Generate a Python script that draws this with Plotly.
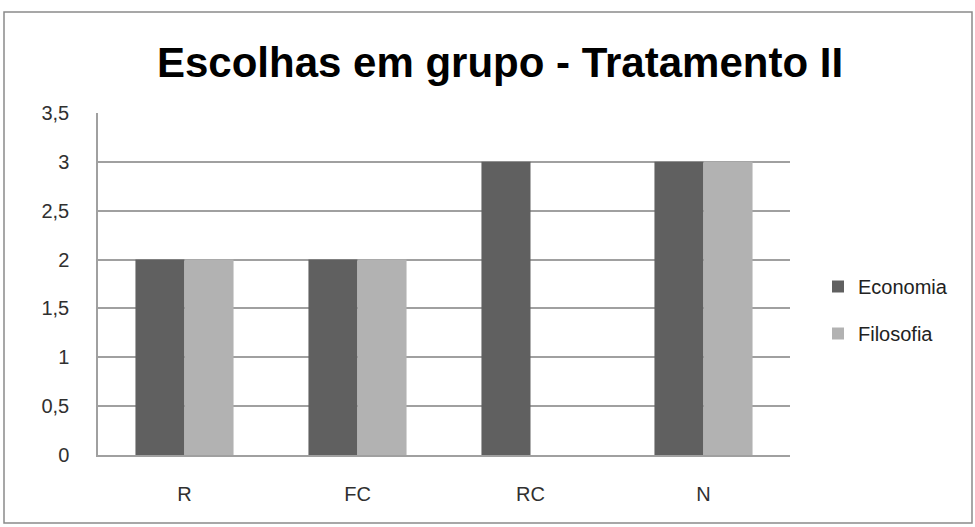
import plotly.graph_objects as go

categories = ["R", "FC", "RC", "N"]
economia = [2, 2, 3, 3]
filosofia = [2, 2, 0, 3]
y_ticks = [0, 0.5, 1, 1.5, 2, 2.5, 3, 3.5]

font_family = "Liberation Sans, Arial, sans-serif"

fig = go.Figure()
fig.add_trace(go.Bar(name="Economia", x=categories, y=economia, legendgroup="e",
                     marker=dict(color="#606060", line=dict(width=0))))
fig.add_trace(go.Bar(name="Filosofia", x=categories, y=filosofia, legendgroup="f",
                     marker=dict(color="#b2b2b2", line=dict(width=0))))

L, R, T, B = 98, 185, 113, 72
W, H = 975, 527
pw, ph = W - L - R, H - T - B

def px_x(x):
    return (x - L) / pw

def px_y(y):
    return (H - B - y) / ph

fig.update_layout(
    width=W, height=H,
    margin=dict(l=L, r=R, t=T, b=B),
    paper_bgcolor="white", plot_bgcolor="white",
    barmode="group", bargap=0.433, bargroupgap=0,
    separators=",.",
    font=dict(family=font_family, color="#303030", size=20),
    title=dict(text="<b>Escolhas em grupo - Tratamento II</b>",
               xref="container", x=500 / W, xanchor="center",
               y=1 - 62 / H, yanchor="middle",
               font=dict(family=font_family, size=42, color="#000000")),
    xaxis=dict(showline=True, linecolor="#a0a0a0", linewidth=2,
               ticks="", tickfont=dict(size=20, color="#303030"),
               ticklabelstandoff=20, showgrid=False),
    yaxis=dict(range=[0, 3.5], tickvals=y_ticks, showgrid=True,
               gridcolor="#a0a0a0", gridwidth=1.5, showline=True,
               linecolor="#a0a0a0", linewidth=1.5, zeroline=False,
               ticks="", ticklabelstandoff=23,
               tickfont=dict(size=20, color="#303030")),
    legend=dict(x=px_x(818), y=px_y(310), xanchor="left", yanchor="middle",
                font=dict(size=20, color="#222222"), tracegroupgap=18,
                bgcolor="rgba(0,0,0,0)"),
    shapes=[dict(type="rect", xref="paper", yref="paper",
                 x0=px_x(4), x1=px_x(972), y0=px_y(523), y1=px_y(12),
                 line=dict(color="#8a8a8a", width=1.5), layer="above")],
)

fig.write_html("out.html", config={"displayModeBar": False},
               post_script="document.body.style.margin='0';document.body.style.padding='0';")
